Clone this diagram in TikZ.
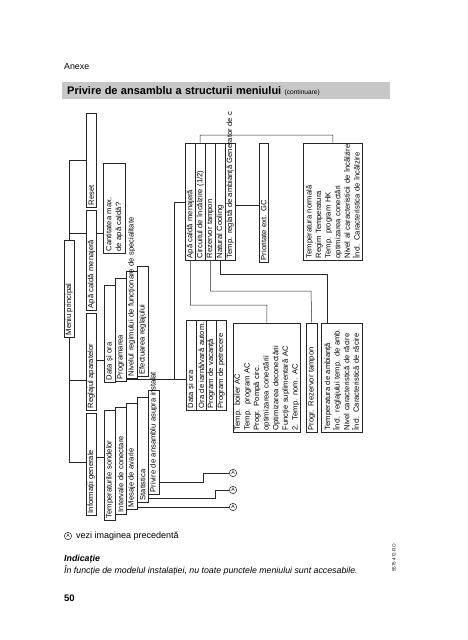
\documentclass[tikz,border=0pt]{standalone}
\usepackage{fontspec}
\setmainfont{Liberation Sans}
\usetikzlibrary{positioning}
\newcommand{\diafont}{\fontsize{7.6}{9.6}\selectfont}
\tikzset{
  cell/.style={draw=black!85, line width=0.5pt, fill=white, rotate=90,
    anchor=north west, align=left, inner xsep=1.5pt, inner ysep=0pt, font=\diafont},
  link/.style={draw=black!85, line width=0.5pt},
  refmark/.style={draw=black!85, line width=0.5pt, circle, inner sep=0pt,
    minimum size=7.4pt, font=\fontsize{5}{5}\selectfont},
}
\begin{document}
\begin{tikzpicture}[x=1pt, y=-1pt]
  \useasboundingbox (0,0) rectangle (468,640);
  % page head
  \node[anchor=base west, inner sep=0pt, font=\fontsize{8.8}{10}\selectfont] (anexe) at (64,69) {Anexe};
  \node[fill=black!22, anchor=north west, minimum width=328pt, minimum height=17pt,
    text width=318pt, align=left, inner xsep=5pt] (titlebar) at (62,82)
    {\fontsize{11}{13}\selectfont\bfseries Privire de ansamblu a structurii meniului
     {\fontsize{6.6}{8}\selectfont\mdseries (continuare)}};

  % main menu and tabs
  \node[cell, text width=94pt, minimum height=10pt] (meniu) at (64,337) {Meniu principal};
  \node[cell, text width=99pt, minimum height=10pt] (info) at (86,515) {Informații generale};
  \node[cell, text width=94pt, minimum height=10pt] (regl) at (86,410) {Reglajul aparatelor};
  \node[cell, text width=97pt, minimum height=10pt] (apa) at (86,310) {Apă caldă menajeră};
  \node[cell, text width=91pt, minimum height=10pt] (reset) at (86,207) {Reset};
  \node[cell, text width=87pt, minimum height=22pt] (cant) at (103,253) {Cantitatea max.\\de apă caldă?};

  % Reglajul aparatelor
  \node[cell, text width=94pt, minimum height=11pt] (rdata) at (104,382) {Data și ora};
  \node[cell, text width=100pt, minimum height=11pt] (rprog) at (115,381) {Programarea};
  \node[cell, text width=104pt, minimum height=11pt] (rniv) at (126,378)
    {\mbox{Nivelul regimului de funcționare de specialitate}};
  \node[cell, text width=107pt, minimum height=11pt] (refect) at (137,376) {Efectuarea reglajului};

  % Informatii generale
  \node[cell, text width=107pt, minimum height=11pt] (tsond) at (104,520) {Temperaturile sondelor};
  \node[cell, text width=104pt, minimum height=11pt] (interv) at (115,514) {Intervale de conectare};
  \node[cell, text width=103pt, minimum height=11pt] (mesaje) at (126,509) {Mesaje de avarie};
  \node[cell, text width=102pt, minimum height=11pt] (stat) at (137,502) {Statistica};
  \node[cell, text width=101pt, minimum height=11pt] (priv) at (148,494)
    {\mbox{Privire de ansamblu asupra instalat}};

  % level of operation
  \node[cell, text width=114pt, minimum height=10pt] (fapa) at (185,260) {Apă caldă menajeră};
  \node[cell, text width=114pt, minimum height=10pt] (fcirc) at (195,260) {Circuitul de încălzire (1/2)};
  \node[cell, text width=114pt, minimum height=10pt] (frez) at (205,260) {Rezervor tampon};
  \node[cell, text width=114pt, minimum height=10pt] (fnat) at (215,260) {Natural Cooling};
  \node[cell, text width=114pt, minimum height=10pt] (ftemp) at (225,260)
    {\mbox{Temp. reglată de ambianță Generator de c}};
  \node[cell, text width=116pt, minimum height=9pt] (prio) at (259,262) {Prioritate ext. GC};
  \node[cell, text width=114pt, minimum height=59pt] (tnorm) at (303,260)
    {Temperatura normală\\Regim Temperatura\\Temp. program HK\\optimizarea conectări\\
     \mbox{Nivel al caracteristicii de încălzire}\\Încl. Caracteristica de încălzire};

  % programs
  \node[cell, text width=87pt, minimum height=10pt] (fdata) at (186,410) {Data și ora};
  \node[cell, text width=87pt, minimum height=10pt] (fora) at (196,410) {\mbox{Ora de iarnă/vară autom.}};
  \node[cell, text width=87pt, minimum height=10pt] (fvac) at (206,410) {Program de vacanță};
  \node[cell, text width=87pt, minimum height=10pt] (fpet) at (216,410) {Program de petrecere};
  \node[cell, text width=106pt, minimum height=67pt] (tboil) at (233,432)
    {Temp. boiler AC\\Temp.\ \ program AC\\Progr. Pompă circ.\\optimizarea conectării\\
     Optimizarea deconectării\\Funcție suplimentară AC\\2. Temp. nom. AC};
  \node[cell, text width=106pt, minimum height=11pt] (prez) at (306,432) {Progr. Rezervor tampon};
  \node[cell, text width=106pt, minimum height=41pt] (tamb) at (321,432)
    {Temperatura de ambianță\\Încl. reglajului temp. de amb.\\Nivel caracteristică de răcire\\
     Încl. Caracteristică de răcire};

  % marks A
  \node[refmark] (a1) at (233,473) {A};
  \node[refmark] (a2) at (233,490) {A};
  \node[refmark] (a3) at (233,507) {A};

  % bends
  \coordinate (circbend) at (200,135);
  \coordinate (apabend) at (174,202);
  \coordinate (boilbend) at (267,305);
  \coordinate (rezbend) at (311,291);
  \coordinate (natbend) at (327,274);
  \coordinate (privbend) at (203,482);
  \coordinate (statbend) at (215,498);

  % connections
  \draw[link] (meniu.east) |- (reset.north);
  \draw[link] (meniu.east) |- (apa.north |- 0,233);
  \draw[link] (apa.south |- 0,233) -- (cant.north |- 0,233);
  \draw[link] (meniu.west) |- (regl.north |- 0,380);
  \draw[link] (meniu.west) |- (info.north |- 0,462);
  \draw[link] (regl.south |- 0,360) -- (rdata.north |- 0,360);
  \draw[link] (info.south |- 0,457) -- (tsond.north |- 0,457);
  \draw[link] (rprog.south |- 0,379) -- (fdata.north |- 0,379);
  \draw[link] (apabend |- 0,379) -- (apabend) -- (fapa.north |- apabend);
  \draw[link] (fcirc.east) -- (circbend) -| (tnorm.east);
  \draw[link] (ftemp.south |- 0,205) -- (prio.north |- 0,205);
  \draw[link] (fapa.west) |- (boilbend) -- (tboil.east);
  \draw[link] (frez.west) |- (rezbend) -- (prez.east);
  \draw[link] (fnat.west) |- (natbend) -- (natbend |- tamb.east);
  \draw[link] (priv.south |- privbend) -| (privbend |- a1) -- (a1.west);
  \draw[link] (stat.south |- statbend) -| (statbend |- a2) -- (a2.west);
  \draw[link] (mesaje.south |- a3) -- (a3.west);

  % legend and note
  \node[refmark] (legA) at (68,536) {A};
  \node[anchor=west, inner sep=0pt, font=\fontsize{9}{11}\selectfont, right=4pt of legA] (legtext) {vezi imaginea precedentă};
  \node[anchor=base west, inner sep=0pt, font=\fontsize{8.8}{11}\selectfont\bfseries\itshape] (hint) at (64,561) {Indicație};
  \node[anchor=base west, inner sep=0pt, font=\fontsize{8.8}{11}\selectfont\itshape] (hinttext) at (64,573)
    {În funcție de modelul instalației, nu toate punctele meniului sunt accesabile.};
  \node[anchor=base west, inner sep=0pt, font=\fontsize{9.5}{11}\selectfont\bfseries] (pagenum) at (64,601) {50};
  \node[rotate=90, inner sep=0pt, font=\fontsize{4.6}{5}\selectfont] (docnum) at (394,558) {5575 472 RO};
\end{tikzpicture}
\end{document}
